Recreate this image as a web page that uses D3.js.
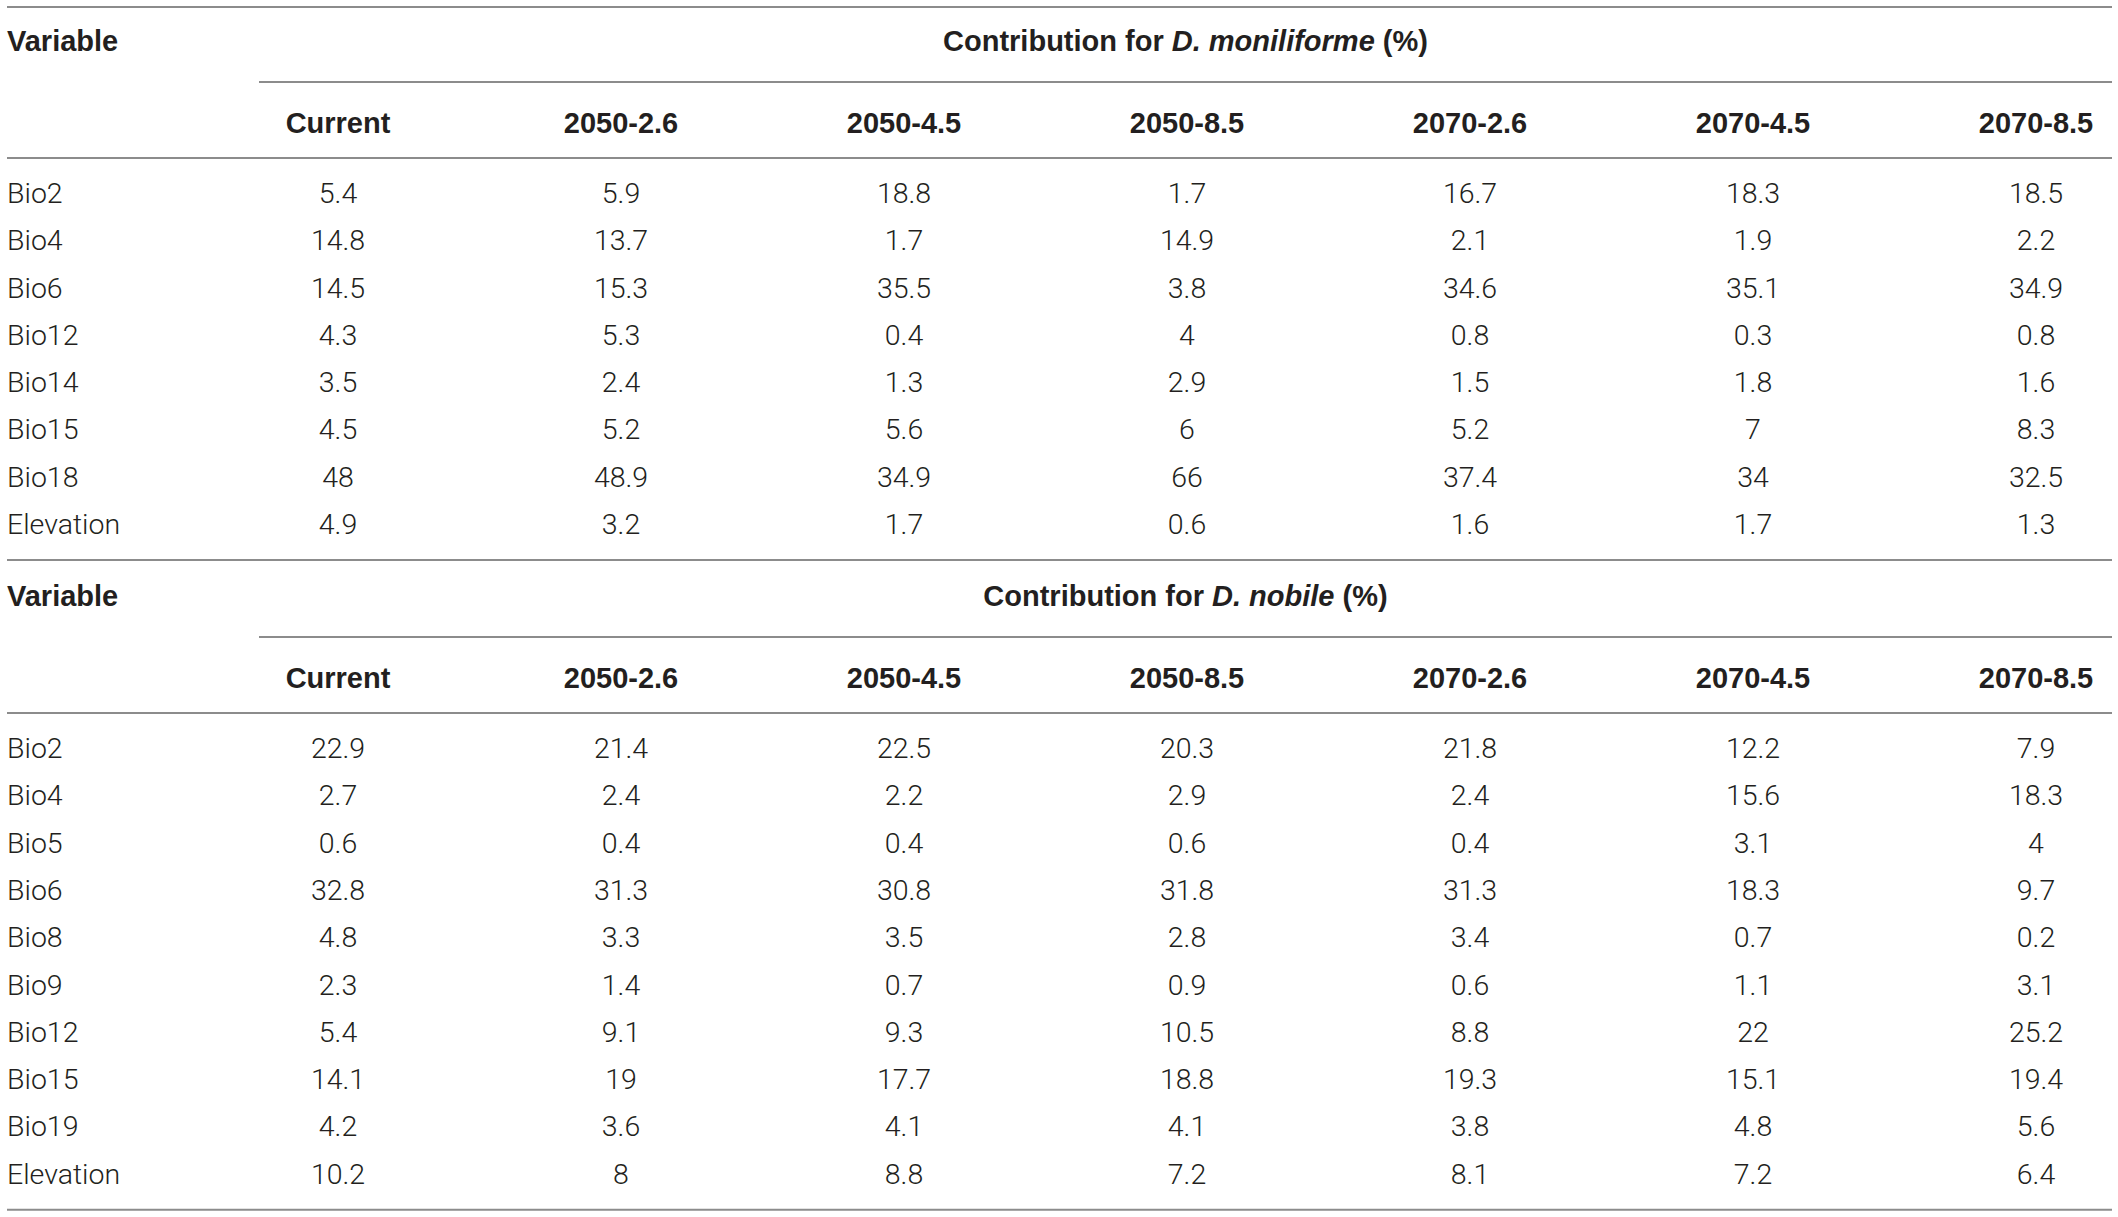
<!DOCTYPE html>
<html>
<head>
<meta charset="utf-8">
<script src="https://cdn.jsdelivr.net/npm/d3@7"></script>
<style>
  html, body { margin: 0; padding: 0; background: #fff; }
  svg text { fill: #231f20; }
  .head { font-family: "Liberation Sans", Arial, sans-serif; font-weight: 700; font-size: 29px; }
  .cell { font-family: Roboto, "Liberation Sans", sans-serif; font-weight: 300; font-size: 28.5px; }
  .rule { stroke: #8c8c8c; stroke-width: 2; }
</style>
</head>
<body>
<svg id="chart" width="2118" height="1217"></svg>
<script>
// column headings shared by both tables
const scenarios = ['Current', '2050-2.6', '2050-4.5', '2050-8.5', '2070-2.6', '2070-4.5', '2070-8.5'];

// D. moniliforme
const monVariables = ['Bio2', 'Bio4', 'Bio6', 'Bio12', 'Bio14', 'Bio15', 'Bio18', 'Elevation'];
const monValues = [
  ['5.4', '5.9', '18.8', '1.7', '16.7', '18.3', '18.5'],
  ['14.8', '13.7', '1.7', '14.9', '2.1', '1.9', '2.2'],
  ['14.5', '15.3', '35.5', '3.8', '34.6', '35.1', '34.9'],
  ['4.3', '5.3', '0.4', '4', '0.8', '0.3', '0.8'],
  ['3.5', '2.4', '1.3', '2.9', '1.5', '1.8', '1.6'],
  ['4.5', '5.2', '5.6', '6', '5.2', '7', '8.3'],
  ['48', '48.9', '34.9', '66', '37.4', '34', '32.5'],
  ['4.9', '3.2', '1.7', '0.6', '1.6', '1.7', '1.3']
];

// D. nobile
const nobVariables = ['Bio2', 'Bio4', 'Bio5', 'Bio6', 'Bio8', 'Bio9', 'Bio12', 'Bio15', 'Bio19', 'Elevation'];
const nobValues = [
  ['22.9', '21.4', '22.5', '20.3', '21.8', '12.2', '7.9'],
  ['2.7', '2.4', '2.2', '2.9', '2.4', '15.6', '18.3'],
  ['0.6', '0.4', '0.4', '0.6', '0.4', '3.1', '4'],
  ['32.8', '31.3', '30.8', '31.8', '31.3', '18.3', '9.7'],
  ['4.8', '3.3', '3.5', '2.8', '3.4', '0.7', '0.2'],
  ['2.3', '1.4', '0.7', '0.9', '0.6', '1.1', '3.1'],
  ['5.4', '9.1', '9.3', '10.5', '8.8', '22', '25.2'],
  ['14.1', '19', '17.7', '18.8', '19.3', '15.1', '19.4'],
  ['4.2', '3.6', '4.1', '4.1', '3.8', '4.8', '5.6'],
  ['10.2', '8', '8.8', '7.2', '8.1', '7.2', '6.4']
];

const svg = d3.select('#chart');
const left = 7;
const right = 2112;
const spanLeft = 259;
const rowStep = 47.3;

const x = d3.scalePoint().domain(scenarios).range([338, 2036]);

/**
 * Draws one block of the table starting at the rule at y = top.
 */
function drawTable(top, species, variables, values, drawTop) {
  const g = svg.append('g');
  const firstRow = top + 186;
  const y = d3.scalePoint()
      .domain(variables)
      .range([firstRow, firstRow + rowStep * (variables.length - 1)]);
  const bottom = y(variables[variables.length - 1]) + 36;

  const rules = [
    {x1: left, x2: right, y: top, show: drawTop},
    {x1: spanLeft, x2: right, y: top + 75, show: true},
    {x1: left, x2: right, y: top + 151, show: true},
    {x1: left, x2: right, y: bottom, show: true}
  ].filter(d => d.show);

  g.selectAll('line.rule').data(rules)
      .enter().append('line')
      .attr('class', 'rule')
      .attr('x1', d => d.x1)
      .attr('x2', d => d.x2)
      .attr('y1', d => d.y)
      .attr('y2', d => d.y);

  g.append('text')
      .attr('class', 'head')
      .attr('x', left)
      .attr('y', top + 34)
      .attr('dy', '0.35em')
      .text('Variable');

  const title = g.append('text')
      .attr('class', 'head')
      .attr('x', (spanLeft + right) / 2)
      .attr('y', top + 34)
      .attr('dy', '0.35em')
      .attr('text-anchor', 'middle');
  title.append('tspan').text('Contribution for ');
  title.append('tspan').attr('font-style', 'italic').text(species);
  title.append('tspan').text(' (%)');

  g.selectAll('text.col').data(scenarios)
      .enter().append('text')
      .attr('class', 'head col')
      .attr('x', d => x(d))
      .attr('y', top + 116)
      .attr('dy', '0.35em')
      .attr('text-anchor', 'middle')
      .text(d => d);

  const rows = g.selectAll('g.row').data(variables)
      .enter().append('g')
      .attr('class', 'row')
      .attr('transform', d => 'translate(0,' + y(d) + ')');

  rows.append('text')
      .attr('class', 'cell')
      .attr('x', left)
      .attr('dy', '0.35em')
      .text(d => d);

  rows.selectAll('text.val')
      .data((d, i) => values[i].map((v, j) => ({col: scenarios[j], value: v})))
      .enter().append('text')
      .attr('class', 'cell val')
      .attr('x', d => x(d.col))
      .attr('dy', '0.35em')
      .attr('text-anchor', 'middle')
      .text(d => d.value);

  return bottom;
}

const end = drawTable(7, 'D. moniliforme', monVariables, monValues, true);
drawTable(end + 2, 'D. nobile', nobVariables, nobValues, false);
</script>
</body>
</html>
